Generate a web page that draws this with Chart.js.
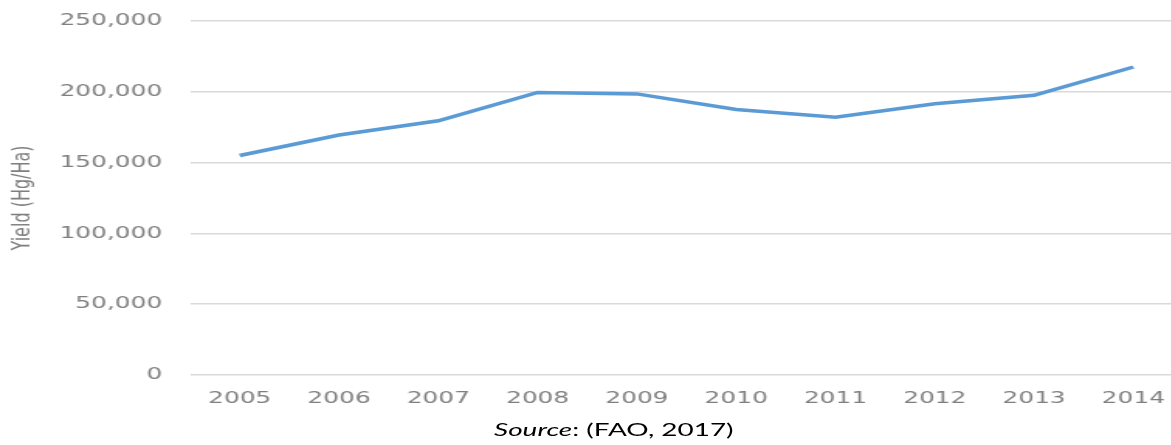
<!DOCTYPE html>
<html>
<head>
<meta charset="utf-8">
<script src="https://cdn.jsdelivr.net/npm/chart.js@4"></script>
<style>
  html, body { margin: 0; padding: 0; background: #fff; width: 1171px; height: 445px; overflow: hidden; }
  /* the reference figure is a horizontally stretched image, so stretch the whole stage */
  #stage { position: absolute; left: 0; top: 0; width: 765px; height: 445px;
           transform: scaleX(1.55); transform-origin: 0 0; }
  #wrap { position: absolute; left: 0; top: 0; width: 765px; height: 410px; }
  #source { position: absolute; left: 296px; width: 200px; top: 418px; text-align: center;
            font-family: Lato, 'Open Sans', sans-serif; font-size: 18px; color: #000; white-space: nowrap; }
</style>
</head>
<body>
<div id="stage">
  <div id="wrap"><canvas id="yieldChart"></canvas></div>
  <div id="source"><i>Source</i>: (FAO, 2017)</div>
</div>
<script>
    // --- data ---
    const years = ['2005', '2006', '2007', '2008', '2009', '2010', '2011', '2012', '2013', '2014'];
    const yieldValues = [155000, 169500, 179500, 199500, 198500, 187500, 182000, 191500, 197500, 217500];
    const yTicks = [0, 50000, 100000, 150000, 200000, 250000];

    const tickFont = { family: "'DejaVu Sans', Verdana, sans-serif", size: 16 };

    const ctx = document.getElementById('yieldChart').getContext('2d');
    const yieldChart = new Chart(ctx, {
        type: 'line',
        data: {
            labels: years,
            datasets: [{
                label: 'Yield',
                data: yieldValues,
                borderColor: '#5b9bd5',
                backgroundColor: '#5b9bd5',
                borderWidth: 3.5,
                pointRadius: 0,
                tension: 0
            }]
        },
        options: {
            responsive: true,
            maintainAspectRatio: false,
            animation: false,
            layout: { padding: { top: 21, left: 0, right: 0, bottom: 0 } },
            plugins: {
                legend: { display: false },
                tooltip: { enabled: false }
            },
            scales: {
                x: {
                    offset: true,
                    grid: { display: false },
                    border: { display: false },
                    ticks: { color: '#7f7f7f', font: tickFont, padding: 6, maxRotation: 0 },
                    afterFit: (scale) => { scale.height = 35; }
                },
                y: {
                    min: 0,
                    max: 250000,
                    afterBuildTicks: (scale) => { scale.ticks = yTicks.map(v => ({ value: v })); },
                    grid: { color: '#d9d9d9', lineWidth: 1.5, drawTicks: false },
                    border: { display: false },
                    ticks: {
                        color: '#7f7f7f',
                        font: tickFont,
                        padding: 18,
                        callback: (v) => v.toLocaleString('en-US')
                    },
                    title: {
                        display: true,
                        text: 'Yield (Hg/Ha)',
                        color: '#7f7f7f',
                        font: { family: "'DejaVu Sans', sans-serif", size: 16 },
                        padding: { top: 5, bottom: 0 }
                    },
                    afterFit: (scale) => {
                        scale.width = 122.6;
                        scale.paddingTop = 0;
                        scale.paddingBottom = 0;
                    }
                }
            }
        }
    });
</script>
</body>
</html>
